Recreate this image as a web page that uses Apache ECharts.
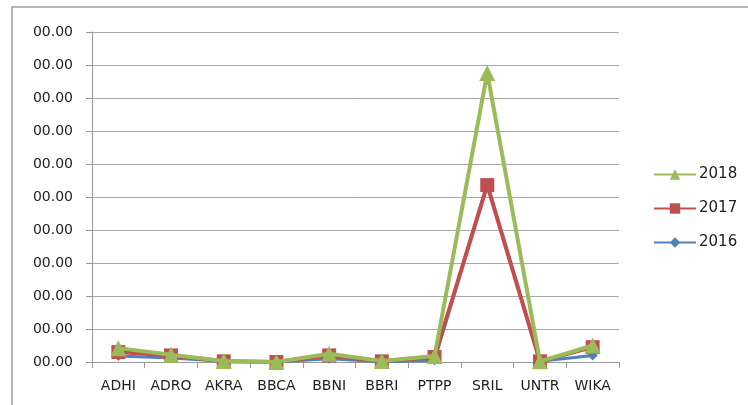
<!DOCTYPE html>
<html>
<head>
<meta charset="utf-8">
<script src="https://cdn.jsdelivr.net/npm/echarts@6/dist/echarts.min.js"></script>
<style>
  html, body { margin: 0; padding: 0; background: #fff; }
  #chart { width: 748px; height: 405px; }
</style>
</head>
<body>
<div id="chart"></div>
<script>
const categories = ['ADHI', 'ADRO', 'AKRA', 'BBCA', 'BBNI', 'BBRI', 'PTPP', 'SRIL', 'UNTR', 'WIKA']
const values2016 = [0.18, 0.12, 0.02, 0, 0.1, 0.01, 0.05, 5.4, 0.02, 0.2]
const values2017 = [0.3, 0.2, 0.02, 0, 0.2, 0.02, 0.15, 5.36, 0.02, 0.45]
const values2018 = [0.42, 0.22, 0.03, 0, 0.25, 0.03, 0.18, 8.76, 0.02, 0.5]

const chart = echarts.init(document.getElementById('chart'))
chart.setOption({
  animation: false,
  textStyle: { fontFamily: 'DejaVu Sans, sans-serif' },
  graphic: [{
    type: 'rect',
    shape: { x: 12, y: 7, width: 800, height: 500 },
    style: { fill: 'none', stroke: '#a0a0a0', lineWidth: 1.5 },
    silent: true
  }],
  grid: { left: 92, right: 129, top: 32, bottom: 43 },
  legend: {
    orient: 'vertical',
    left: 648,
    top: 162,
    itemWidth: 42,
    itemHeight: 13,
    itemGap: 19,
    data: ['2018', '2017', '2016'],
    textStyle: { fontSize: 15, color: '#222', padding: [0, 0, 0, -2] }
  },
  xAxis: {
    type: 'category',
    data: categories,
    boundaryGap: true,
    axisLine: { lineStyle: { color: '#999', width: 1 } },
    axisTick: { show: true, length: 6, lineStyle: { color: '#999' } },
    axisLabel: { fontSize: 14, color: '#222', margin: 17, interval: 0, hideOverlap: false }
  },
  yAxis: {
    type: 'value',
    min: 0,
    max: 10,
    interval: 1,
    axisLine: { show: true, lineStyle: { color: '#999' } },
    axisTick: { show: true, length: 6, lineStyle: { color: '#999' } },
    splitLine: { lineStyle: { color: '#a8a8a8', width: 1 } },
    axisLabel: { fontSize: 14, color: '#222', margin: 19, formatter: () => '00.00' }
  },
  series: [{
    name: '2016',
    type: 'line',
    data: values2016,
    symbol: 'diamond',
    symbolSize: 10,
    color: '#4F81BD',
    lineStyle: { width: 3 },
    z: 2
  }, {
    name: '2017',
    type: 'line',
    data: values2017,
    symbol: 'rect',
    symbolSize: 14,
    color: '#C0504D',
    lineStyle: { width: 4 },
    z: 3
  }, {
    name: '2018',
    type: 'line',
    data: values2018,
    symbol: 'triangle',
    symbolSize: 16,
    color: '#9BBB59',
    lineStyle: { width: 4 },
    z: 4
  }]
})
</script>
</body>
</html>
